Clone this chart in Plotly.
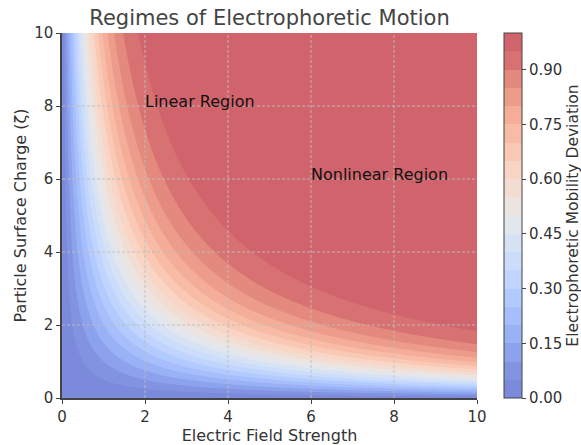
import numpy as np
import plotly.graph_objects as go

# axis samples (Electric field strength, particle surface charge)
field_strength = np.linspace(0, 10, 241)
surface_charge = np.linspace(0, 10, 241)
# mobility deviation field
E, Z = np.meshgrid(field_strength, surface_charge)
deviation = np.tanh(E * Z / 10.0)

axis_ticks = [0, 2, 4, 6, 8, 10]
cbar_ticks = [0.0, 0.15, 0.30, 0.45, 0.60, 0.75, 0.90]
level_start, level_end, level_step = 0.0, 1.0, 0.05

annotations_text = ["Linear Region", "Nonlinear Region"]
annotations_x = [2, 6]
annotations_y = [8, 6]

# Moreland cool-warm table (matplotlib coolwarm)
cw = [
    (59, 76, 192), (68, 90, 204), (77, 104, 215), (87, 117, 225), (98, 130, 234),
    (108, 142, 241), (119, 154, 247), (130, 165, 251), (141, 176, 254), (152, 185, 255),
    (163, 194, 255), (174, 201, 253), (184, 208, 249), (194, 213, 244), (204, 217, 238),
    (213, 219, 230), (221, 221, 221), (229, 216, 209), (236, 211, 197), (241, 204, 185),
    (245, 196, 173), (247, 187, 160), (247, 177, 148), (247, 166, 135), (244, 154, 123),
    (241, 141, 111), (236, 127, 99), (229, 112, 88), (222, 96, 77), (213, 80, 66),
    (203, 62, 56), (192, 40, 47), (180, 4, 38),
]
ALPHA = 0.7


def coolwarm(t):
    p = t * (len(cw) - 1)
    i = min(int(np.floor(p)), len(cw) - 2)
    f = p - i
    c = [cw[i][k] + (cw[i + 1][k] - cw[i][k]) * f for k in range(3)]
    c = [255 * (1 - ALPHA) + ALPHA * v for v in c]
    return "rgb(%d,%d,%d)" % tuple(round(v) for v in c)


n_levels = int(round((level_end - level_start) / level_step)) + 1  # contour lines
n_bands = n_levels - 1
band_cols = [coolwarm((k + 0.5) / n_bands) for k in range(n_bands)]
# plotly samples band k at s=(k+1)/n_levels; bg at 0, top at 1
colorscale = []
cols_at = [band_cols[0]] + band_cols + [band_cols[-1]]
for j, c in enumerate(cols_at):
    colorscale.append([j / n_levels, c])

font_family = "DejaVu Sans"
text_col = "#333333"
W, H = 581, 445
L, R, T, B = 62, 104, 33, 47
pw = W - L - R

fig = go.Figure()
fig.add_trace(go.Contour(
    x=field_strength, y=surface_charge, z=deviation,
    colorscale=colorscale,
    zmin=0, zmax=1,
    contours=dict(start=level_start, end=level_end, size=level_step,
                  coloring="fill", showlines=False),
    line=dict(width=0),
    colorbar=dict(
        x=(504 - L) / pw, xanchor="left", xref="paper", xpad=0, ypad=0,
        y=0.5, yanchor="middle", len=1.0, lenmode="fraction",
        thickness=18, outlinewidth=1, outlinecolor="#444444",
        tickvals=cbar_ticks, ticktext=["%.2f" % v for v in cbar_ticks],
        ticks="outside", ticklen=4, tickcolor="#444444",
        tickfont=dict(family=font_family, size=15, color=text_col),
        title=dict(text="Electrophoretic Mobility Deviation", side="right",
                   font=dict(family=font_family, size=15.5, color=text_col)),
    ),
    hoverinfo="skip",
))

shapes = []
for v in axis_ticks[1:-1]:
    shapes.append(dict(type="line", xref="x", yref="paper", x0=v, x1=v, y0=0, y1=1,
                       line=dict(color="rgba(190,190,190,0.9)", width=1, dash="3px,2px"),
                       layer="above"))
    shapes.append(dict(type="line", xref="paper", yref="y", x0=0, x1=1, y0=v, y1=v,
                       line=dict(color="rgba(190,190,190,0.9)", width=1, dash="3px,2px"),
                       layer="above"))

anns = []
for t, ax_, ay_ in zip(annotations_text, annotations_x, annotations_y):
    anns.append(dict(text=t, x=ax_, y=ay_, xref="x", yref="y", showarrow=False,
                     xanchor="left", yanchor="bottom", yshift=-7, xshift=-2,
                     font=dict(family=font_family, size=16, color="#111111")))

fig.update_layout(
    width=W, height=H,
    margin=dict(l=L, r=R, t=T, b=B, autoexpand=False),
    paper_bgcolor="white", plot_bgcolor="white",
    title=dict(text="Regimes of Electrophoretic Motion", x=(L + pw / 2) / W, xanchor="center",
               y=1 - 18 / H, yanchor="middle",
               font=dict(family=font_family, size=21, color="#444444")),
    xaxis=dict(range=[0, 10], tickvals=axis_ticks, showgrid=False, zeroline=False,
               showline=True, linecolor="#444444", linewidth=1.5,
               ticks="outside", ticklen=4, tickcolor="#444444",
               tickfont=dict(family=font_family, size=15, color=text_col),
               title=dict(text="Electric Field Strength", standoff=0,
                          font=dict(family=font_family, size=16, color=text_col))),
    yaxis=dict(range=[0, 10], tickvals=axis_ticks, showgrid=False, zeroline=False,
               showline=True, linecolor="#444444", linewidth=1.5,
               ticks="outside", ticklen=4, tickcolor="#444444",
               tickfont=dict(family=font_family, size=15, color=text_col),
               title=dict(text="Particle Surface Charge (ζ)", standoff=4,
                          font=dict(family=font_family, size=16, color=text_col))),
    shapes=shapes,
    annotations=anns,
)

fig.write_html("out.html")
